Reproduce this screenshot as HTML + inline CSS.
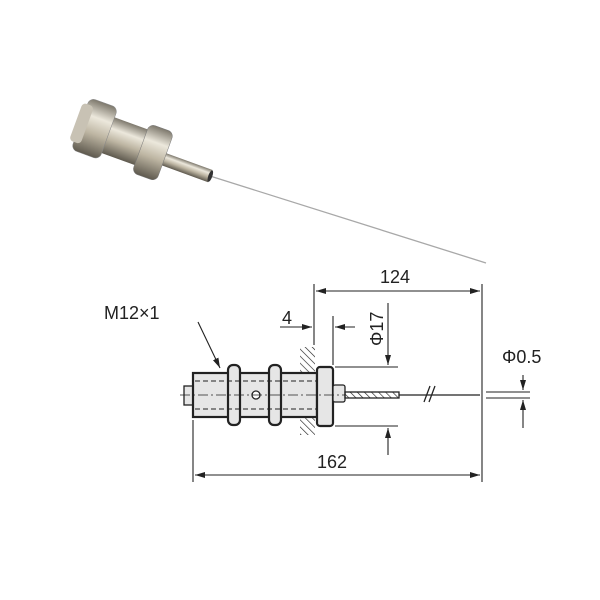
<!DOCTYPE html><html><head><style>body{margin:0;background:#fff}svg{display:block}</style></head><body>
<svg width="600" height="600" viewBox="0 0 600 600" font-family="Liberation Sans, sans-serif">
<defs>
<linearGradient id="m" x1="0" y1="0" x2="0" y2="1"><stop offset="0" stop-color="#7d786c"/><stop offset=".3" stop-color="#ece8dc"/><stop offset=".6" stop-color="#bdb5a2"/><stop offset="1" stop-color="#5e594e"/></linearGradient>
<marker id="a" markerWidth="10" markerHeight="6" refX="10" refY="3" orient="auto-start-reverse" markerUnits="userSpaceOnUse"><path d="M0,0L10,3L0,6z" fill="#222"/></marker>
<pattern id="h" width="5" height="5" patternUnits="userSpaceOnUse" patternTransform="rotate(-45)"><line x1="0" y1="0" x2="0" y2="5" stroke="#222" stroke-width="1.3"/></pattern>
</defs>
<!-- photo -->
<line x1="210" y1="176" x2="486" y2="263" stroke="#a8a8a8" stroke-width="1.3"/>
<g transform="rotate(20 140 150)">
<rect x="160" y="144" width="55" height="13" fill="url(#m)"/>
<ellipse cx="215" cy="150.5" rx="2" ry="6" fill="#333"/>
<rect x="100" y="128" width="55" height="38" fill="url(#m)"/>
<rect x="140" y="122" width="26" height="52" rx="6" fill="url(#m)" stroke="#777" stroke-width=".5"/>
<rect x="75" y="118" width="30" height="55" rx="6" fill="url(#m)" stroke="#888" stroke-width=".5"/>
<rect x="70" y="125" width="12" height="40" rx="4" fill="#c8c2b4"/>
</g>
<!-- drawing -->
<g stroke="#222" fill="none" stroke-width="1.3">
<rect x="300" y="347" width="15" height="88" fill="url(#h)" stroke="none"/>
<rect x="184" y="386" width="10" height="19" fill="#e6e6e6"/>
<rect x="193" y="373" width="124" height="44" fill="#e6e6e6" stroke-width="2.2"/>
<rect x="228" y="365" width="12" height="60" rx="5" fill="#e6e6e6" stroke-width="2.2"/>
<rect x="269" y="365" width="12" height="60" rx="5" fill="#e6e6e6" stroke-width="2.2"/>
<rect x="317" y="367" width="16" height="59" rx="3" fill="#e6e6e6" stroke-width="2.2"/>
<rect x="333" y="385" width="12" height="17" rx="2" fill="#e6e6e6"/>
<rect x="345" y="392" width="54" height="6" fill="url(#h)"/>
<line x1="399" y1="395" x2="480" y2="395"/>
<line x1="424" y1="402" x2="430" y2="386"/><line x1="429" y1="402" x2="435" y2="386"/>
<circle cx="256" cy="395" r="4" fill="#fff"/>
<line x1="195" y1="381" x2="316" y2="381" stroke-dasharray="5 3" stroke-width="1"/>
<line x1="195" y1="409" x2="316" y2="409" stroke-dasharray="5 3" stroke-width="1"/>
<line x1="180" y1="395" x2="345" y2="395" stroke-dasharray="10 3 2 3" stroke-width=".8"/>
</g>
<g stroke="#222" stroke-width="1.1" fill="none">
<line x1="314" y1="284" x2="314" y2="345"/><line x1="482" y1="284" x2="482" y2="482"/>
<line x1="316" y1="291" x2="480" y2="291" marker-start="url(#a)" marker-end="url(#a)"/>
<line x1="333" y1="316" x2="333" y2="365"/>
<line x1="280" y1="327" x2="312" y2="327" marker-end="url(#a)"/><line x1="355" y1="327" x2="335" y2="327" marker-end="url(#a)"/>
<line x1="335" y1="367" x2="398" y2="367"/><line x1="335" y1="426" x2="398" y2="426"/>
<line x1="388" y1="303" x2="388" y2="365" marker-end="url(#a)"/><line x1="388" y1="455" x2="388" y2="428" marker-end="url(#a)"/>
<line x1="193" y1="420" x2="193" y2="482"/>
<line x1="195" y1="475" x2="480" y2="475" marker-start="url(#a)" marker-end="url(#a)"/>
<line x1="486" y1="392" x2="530" y2="392"/><line x1="486" y1="398" x2="530" y2="398"/>
<line x1="523" y1="375" x2="523" y2="390" marker-end="url(#a)"/><line x1="523" y1="428" x2="523" y2="400" marker-end="url(#a)"/>
<line x1="198" y1="322" x2="220" y2="368" marker-end="url(#a)"/>
</g>
<g fill="#222" font-size="18">
<text x="395" y="283" text-anchor="middle">124</text>
<text x="287" y="324" text-anchor="middle">4</text>
<text x="332" y="468" text-anchor="middle">162</text>
<text x="104" y="319">M12×1</text>
<text x="502" y="363">Φ0.5</text>
<text transform="translate(383 346) rotate(-90)">Φ17</text>
</g>
</svg></body></html>
